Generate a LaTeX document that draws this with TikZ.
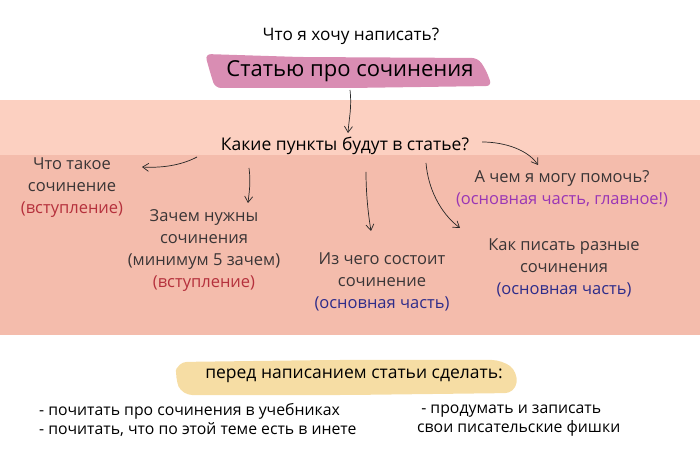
\documentclass[tikz,border=0pt]{standalone}
\usepackage{fontspec}
\setmainfont{Open Sans}
\usetikzlibrary{arrows.meta}

\definecolor{bandlight}{HTML}{FCD0C1}
\definecolor{banddark}{HTML}{F4BCAC}
\definecolor{brushpink}{HTML}{D98DB3}
\definecolor{brushyellow}{HTML}{F6DDA4}
\definecolor{inkgrey}{HTML}{3A3536}
\definecolor{introred}{HTML}{B5303C}
\definecolor{mainblue}{HTML}{2E2C8A}
\definecolor{mainpurple}{HTML}{9A36B5}

\tikzset{
  point/.style={align=center, text=inkgrey, inner sep=0pt, font=\fontsize{16.5}{22}\selectfont},
  head/.style={text=black, inner sep=0pt, font=\fontsize{17.5}{20}\selectfont},
  todo/.style={align=left, anchor=west, text=black, inner sep=0pt, font=\fontsize{15.8}{19}\selectfont},
  hand/.style={-{Straight Barb[length=6pt,width=8pt]}, black!85, line width=0.7pt},
}
\newcommand{\intro}[1]{\textcolor{introred}{#1}}
\newcommand{\mainpart}[1]{\textcolor{mainblue}{#1}}

\begin{document}
\begin{tikzpicture}[x=1pt,y=1pt]
    \useasboundingbox (0,0) rectangle (700,468);
    % bands and brush strokes
    \fill[bandlight] (0,313) rectangle (700,368);
    \fill[banddark] (0,133) rectangle (700,313);
    \fill[brushpink, rounded corners=6pt] (205,414) -- (300,411) -- (478,410) -- (486,398) -- (492,382) -- (350,380) -- (215,380) -- (210,396) -- cycle;
    \fill[brushyellow, rounded corners=10pt] (177,106) -- (330,108) -- (502,108) -- (518,96) -- (515,75) -- (350,73) -- (182,73) -- (175,90) -- cycle;

    \node[head, font=\fontsize{17.2}{18}\selectfont] (ask) at (351,432) {Что я хочу написать?};
    \node[head, font=\fontsize{22}{24}\selectfont] (title) at (350,397) {Статью про сочинения};
    \node[head] (q) at (345,322) {Какие пункты будут в статье?};

    \node[point] (what) at (72,280) {Что такое\\сочинение\\\intro{(вступление)}};
    \node[point] (why) at (204,217) {Зачем нужны\\сочинения\\(минимум 5 зачем)\\\intro{(вступление)}};
    \node[point] (parts) at (382,186) {Из чего состоит\\сочинение\\\mainpart{(основная часть)}};
    \node[point] (help) at (562,279) {А чем я могу помочь?\\\textcolor{mainpurple}{(основная часть, главное!)}};
    \node[point] (how) at (564,200) {Как писать разные\\сочинения\\\mainpart{(основная часть)}};

    % hand drawn arrows
    \draw[hand] ([shift={(0,-19)}]title.center) .. controls +(2,-18) and +(1,15) .. ([shift={(3,13)}]q.center);
    \draw[hand] ([shift={(137,4)}]q.center) .. controls +(23,0) and +(-10,15) .. ([shift={(-24,24)}]help.center);
    \draw[hand] ([shift={(-148,-11)}]q.center) .. controls +(-17,-9) and +(18,-1) .. ([shift={(70,21)}]what.center);
    \draw[hand] ([shift={(-96,-22)}]q.center) .. controls +(2,-15) and +(1,10) .. ([shift={(44,48)}]why.center);
    \draw[hand] ([shift={(21,-26)}]q.center) .. controls +(0,-21) and +(-3,18) .. ([shift={(-11,51)}]parts.center);
    \draw[hand] ([shift={(81,-17)}]q.center) .. controls +(2,-25) and +(-20,15) .. ([shift={(-104,40)}]how.center);

    \node[head] (todo) at (354,92) {перед написанием статьи сделать:};
    \node[todo] (read) at (39,48) {- почитать про сочинения в учебниках\\- почитать, что по этой теме есть в инете};
    \node[todo] (own) at (417,47) {\ - продумать и записать\\свои писательские фишки};
\end{tikzpicture}
\end{document}
